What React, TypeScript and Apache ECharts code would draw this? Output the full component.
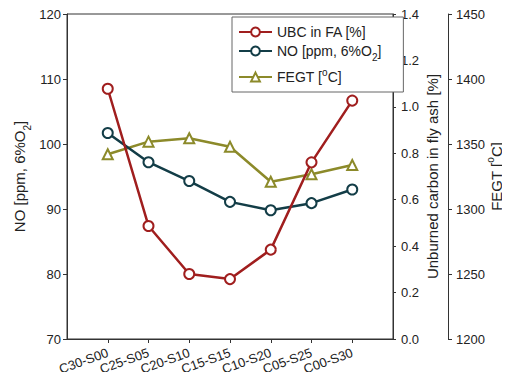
import React, { useEffect, useRef } from "react";
import * as echarts from "echarts";

const categories = ["C30-S00", "C25-S05", "C20-S10", "C15-S15", "C10-S20", "C05-S25", "C00-S30"];
const ubcValues = [1.078, 0.487, 0.28, 0.258, 0.385, 0.761, 1.027];
const noValues = [101.7, 97.2, 94.3, 91.1, 89.8, 90.9, 93.0];
const fegtValues = [1342.1, 1351.8, 1354.4, 1347.9, 1321.0, 1326.7, 1333.8];
const xPositions = [1, 2, 3, 4, 5, 6, 7];

const RED = "#A01E1E";
const TEAL = "#133D47";
const OLIVE = "#8C8A2A";
const FONT = "'Liberation Sans', Arial, sans-serif";
const AXIS = "#333";

const rich = {
  a: { fontSize: 14, fontFamily: FONT, color: "#222" },
  sub: { fontSize: 10, fontFamily: FONT, color: "#222", verticalAlign: "bottom", padding: [0, 0, -4, 0] },
  sup: { fontSize: 10, fontFamily: FONT, color: "#222", verticalAlign: "top", padding: [-3, 0, 0, 0] },
  n: { fontSize: 15, fontFamily: FONT, color: "#222" },
  nsub: { fontSize: 10, fontFamily: FONT, color: "#222", verticalAlign: "bottom", padding: [0, 0, -5, 0] },
  nsup: { fontSize: 10, fontFamily: FONT, color: "#222", verticalAlign: "top", padding: [-4, 0, 0, 0] },
};

export default function App() {
  const ref = useRef<HTMLDivElement>(null);
  useEffect(() => {
    if (!ref.current) return;
    const chart = echarts.init(ref.current, undefined, { renderer: "svg" });
    const mk = (vals: number[]) => vals.map((v, i) => [xPositions[i], v]);
    const yBase = {
      type: "value",
      axisLine: { show: true, lineStyle: { color: AXIS, width: 1 } },
      axisTick: { show: true, length: 4, lineStyle: { color: AXIS } },
      splitLine: { show: false },
      axisLabel: { fontSize: 13, fontFamily: FONT, color: "#222", margin: 6 },
      nameLocation: "middle",
      nameMoveOverlap: false,
    };
    chart.setOption({
      animation: false,
      backgroundColor: "#fff",
      grid: {
        left: 67, right: 117, top: 14, bottom: 41,
        outerBoundsMode: "none",
        containLabel: false,
        show: true, borderColor: AXIS, borderWidth: 1, backgroundColor: "transparent",
      },
      legend: {
        orient: "vertical",
        left: 232,
        top: 17,
        itemWidth: 33,
        itemHeight: 11,
        itemGap: 5,
        padding: [8, 22, 8, 6],
        borderColor: "#666",
        borderWidth: 1,
        backgroundColor: "#fff",
        data: ["UBC", "NO", "FEGT"],
        formatter: (name: string) => {
          if (name === "UBC") return "{a|UBC in FA [%]}";
          if (name === "NO") return "{a|NO [ppm, 6%O}{sub|2}{a|]}";
          return "{a|FEGT [}{sup|o}{a|C]}";
        },
        textStyle: { fontSize: 14, fontFamily: FONT, color: "#222", rich },
      },
      xAxis: {
        type: "value",
        min: 0,
        max: 8,
        interval: 1,
        splitLine: { show: false },
        axisLine: { show: true, lineStyle: { color: AXIS } },
        axisTick: { show: true, length: 4, customValues: xPositions, lineStyle: { color: AXIS } },
        axisLabel: {
          customValues: xPositions,
          rotate: 20,
          fontSize: 13,
          fontFamily: FONT,
          color: "#222",
          margin: 13,
          formatter: (v: number) => categories[Math.round(v) - 1] ?? "",
        },
      },
      yAxis: [
        {
          ...yBase,
          position: "left",
          min: 70,
          max: 120,
          interval: 10,
          name: "{n|NO [ppm, 6%O}{nsub|2}{n|]}",
          nameGap: 40,
          nameTextStyle: { rich },
        },
        {
          ...yBase,
          position: "right",
          min: 0,
          max: 1.4,
          interval: 0.2,
          axisTick: { show: true, length: 3, lineStyle: { color: AXIS } },
          axisLabel: { ...yBase.axisLabel, margin: 8, formatter: (v: number) => v.toFixed(1) },
          name: "{n|Unburned carbon in fly ash [%]}",
          nameGap: 32,
          nameTextStyle: { rich },
        },
        {
          ...yBase,
          position: "right",
          offset: 55,
          min: 1200,
          max: 1450,
          interval: 50,
          axisTick: { show: true, length: 4, lineStyle: { color: AXIS } },
          axisLabel: { ...yBase.axisLabel, margin: 8, formatter: (v: number) => String(v) },
          name: "{n|FEGT [}{nsup|o}{n|C]}",
          nameGap: 41,
          nameTextStyle: { rich },
        },
      ],
      series: [
        {
          name: "UBC",
          type: "line",
          yAxisIndex: 1,
          data: mk(ubcValues),
          symbol: "emptyCircle",
          symbolSize: 10,
          color: RED,
          lineStyle: { width: 2.5, color: RED },
          itemStyle: { color: RED, borderWidth: 2 },
          z: 3,
        },
        {
          name: "NO",
          type: "line",
          yAxisIndex: 0,
          data: mk(noValues),
          symbol: "emptyCircle",
          symbolSize: 10,
          color: TEAL,
          lineStyle: { width: 2.5, color: TEAL },
          itemStyle: { color: TEAL, borderWidth: 2 },
          z: 2,
        },
        {
          name: "FEGT",
          type: "line",
          yAxisIndex: 2,
          data: mk(fegtValues),
          symbol: "emptyTriangle",
          symbolSize: 10,
          color: OLIVE,
          lineStyle: { width: 2.5, color: OLIVE },
          itemStyle: { color: OLIVE, borderWidth: 1.5 },
          z: 1,
        },
      ],
    });
    return () => chart.dispose();
  }, []);
  return <div ref={ref} style={{ width: 510, height: 380, margin: -8 }} />;
}
